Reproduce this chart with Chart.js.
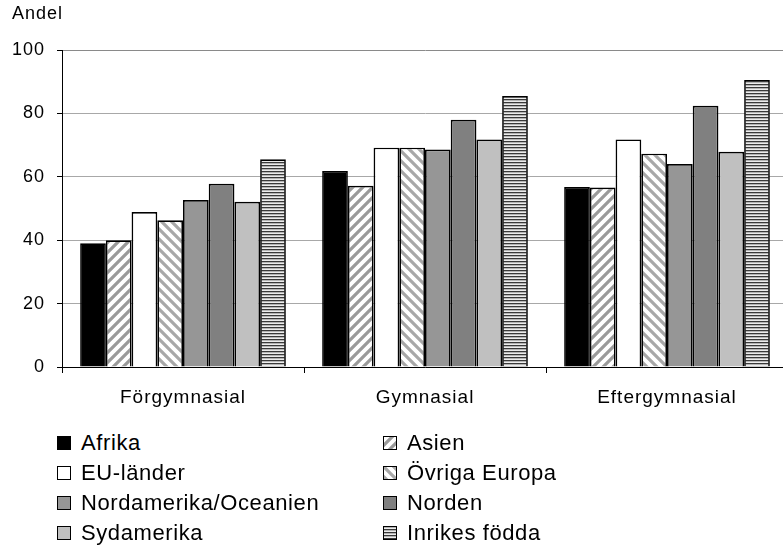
<!DOCTYPE html>
<html lang="sv">
<head>
  <meta charset="UTF-8">
  <title>Andel</title>
  <script src="https://cdn.jsdelivr.net/npm/chart.js"></script>
  <style>
    body { margin: 0; background: #fff; font-family: "Liberation Sans", Arial, sans-serif; }
    #wrap { position: relative; width: 783px; height: 547px; overflow: hidden; }
    #chartBox { position: absolute; left: 0; top: 0; width: 790px; height: 410px; }
    #legend { position: absolute; left: 57px; top: 428px; display: grid;
              grid-template-columns: 326px auto; grid-auto-rows: 30px; }
    .item { display: flex; align-items: center; font-size: 22px; letter-spacing: 0.6px; color: #000; white-space: nowrap; }
    .item canvas { margin-right: 10px; }
  </style>
</head>
<body>
  <div id="wrap">
    <div id="chartBox"><canvas id="myChart" width="790" height="410"></canvas></div>
    <div id="legend"></div>
  </div>

  <script>
    const categories = ['Förgymnasial', 'Gymnasial', 'Eftergymnasial'];
    const seriesNames = ['Afrika', 'Asien', 'EU-länder', 'Övriga Europa',
                         'Nordamerika/Oceanien', 'Norden', 'Sydamerika', 'Inrikes födda'];
    const afrika  = [39.0, 61.8, 56.8];
    const asien   = [40.0, 57.2, 56.6];
    const euLand  = [48.9, 69.2, 71.8];
    const ovriga  = [46.3, 69.2, 67.3];
    const nordam  = [52.7, 68.6, 64.0];
    const norden  = [57.8, 78.0, 82.4];
    const sydam   = [52.1, 71.8, 67.9];
    const inrikes = [65.5, 85.5, 90.5];
    const yTicks  = [0, 20, 40, 60, 80, 100];

    // hatch patterns
    function diagPattern(dir, color) {
      const c = document.createElement('canvas');
      c.width = 10; c.height = 10;
      const g = c.getContext('2d');
      g.fillStyle = '#fff';
      g.fillRect(0, 0, 10, 10);
      g.strokeStyle = color;
      g.lineWidth = 3.2;
      g.beginPath();
      if (dir === 'up') {
        g.moveTo(-5, 15); g.lineTo(15, -5);
        g.moveTo(-5, 5); g.lineTo(5, -5);
        g.moveTo(5, 15); g.lineTo(15, 5);
      } else {
        g.moveTo(-5, -5); g.lineTo(15, 15);
        g.moveTo(5, -5); g.lineTo(15, 5);
        g.moveTo(-5, 5); g.lineTo(5, 15);
      }
      g.stroke();
      return g.createPattern(c, 'repeat');
    }
    function hStripePattern() {
      const c = document.createElement('canvas');
      c.width = 4; c.height = 3;
      const g = c.getContext('2d');
      g.fillStyle = '#3a3a3a'; g.fillRect(0, 0, 4, 1);
      g.fillStyle = '#b4b4b4'; g.fillRect(0, 1, 4, 1);
      g.fillStyle = '#ececec'; g.fillRect(0, 2, 4, 1);
      return g.createPattern(c, 'repeat');
    }

    const fills = [
      '#000000',
      diagPattern('up', '#9a9a9a'),
      '#ffffff',
      diagPattern('down', '#a8a8a8'),
      '#969696',
      '#808080',
      '#c0c0c0',
      hStripePattern()
    ];
    const values = [afrika, asien, euLand, ovriga, nordam, norden, sydam, inrikes];

    const datasets = seriesNames.map((name, i) => ({
      label: name,
      data: values[i],
      backgroundColor: fills[i],
      borderColor: '#000',
      borderWidth: 1.7,
      categoryPercentage: 0.85,
      barPercentage: 1.0
    }));

    const spacing = {
      id: 'spacing',
      beforeLayout(chart) { chart.ctx.letterSpacing = '1px'; },
      beforeDraw(chart) { chart.ctx.letterSpacing = '1px'; }
    };

    const ctx = document.getElementById('myChart').getContext('2d');
    const chart = new Chart(ctx, {
      type: 'bar',
      data: { labels: categories, datasets: datasets },
      plugins: [spacing],
      options: {
        responsive: false,
        animation: false,
        layout: { padding: { left: 12, right: 2, top: 3, bottom: 0 } },
        plugins: {
          legend: { display: false },
          tooltip: { enabled: false },
          title: {
            display: true,
            text: 'Andel',
            align: 'start',
            color: '#000',
            font: { family: '"Liberation Sans", Arial', size: 18, weight: 'normal' },
            padding: { top: 0, bottom: 25.4 }
          }
        },
        scales: {
          x: {
            grid: { drawOnChartArea: false, drawTicks: true, tickLength: 6, tickColor: '#000', offset: true },
            border: { color: '#000', width: 1 },
            ticks: { color: '#000', padding: 13, font: { family: '"Liberation Sans", Arial', size: 19 } },
            afterFit(scale) { scale.height = 43; }
          },
          y: {
            min: 0,
            max: 100,
            afterBuildTicks(scale) { scale.ticks = yTicks.map(v => ({ value: v })); },
            grid: {
              color: ctx => ctx.tick && ctx.tick.value === 100 ? '#8a8a8a' : '#a8a8a8',
              lineWidth: 1,
              tickLength: 5,
              tickColor: '#000'
            },
            border: { color: '#000', width: 1 },
            ticks: { color: '#000', padding: 12, font: { family: '"Liberation Sans", Arial', size: 18 } },
            afterFit(scale) { scale.width = 50; }
          }
        }
      }
    });

    // legend in two columns, built from the datasets
    const legend = document.getElementById('legend');
    chart.data.datasets.forEach(ds => {
      const item = document.createElement('div');
      item.className = 'item';
      const sw = document.createElement('canvas');
      sw.width = 14; sw.height = 14;
      const g = sw.getContext('2d');
      g.fillStyle = ds.backgroundColor;
      g.fillRect(0, 0, 14, 14);
      g.strokeStyle = '#000';
      g.lineWidth = 1;
      g.strokeRect(0.5, 0.5, 13, 13);
      item.appendChild(sw);
      const t = document.createElement('span');
      t.textContent = ds.label;
      item.appendChild(t);
      legend.appendChild(item);
    });
  </script>
</body>
</html>
